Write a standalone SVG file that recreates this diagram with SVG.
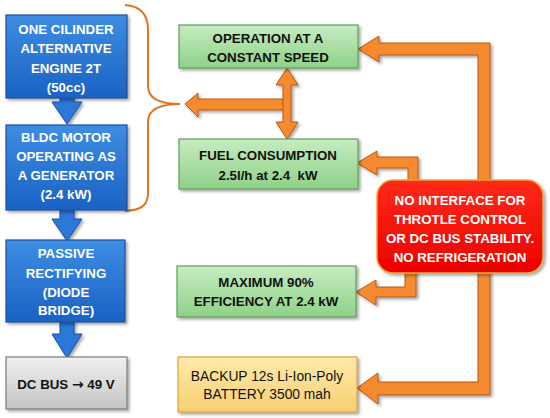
<svg xmlns="http://www.w3.org/2000/svg" width="550" height="418" viewBox="0 0 550 418">
<defs>
<linearGradient id="gBlue" x1="0" y1="0" x2="0" y2="1"><stop offset="0" stop-color="#3d8de3"/><stop offset="1" stop-color="#1b62c2"/></linearGradient>
<linearGradient id="gGreen" x1="0" y1="0" x2="0" y2="1"><stop offset="0" stop-color="#c6ecc1"/><stop offset="1" stop-color="#8fd188"/></linearGradient>
<linearGradient id="gYellow" x1="0" y1="0" x2="0" y2="1"><stop offset="0" stop-color="#fdeaa9"/><stop offset="1" stop-color="#f8cf74"/></linearGradient>
<linearGradient id="gGray" x1="0" y1="0" x2="0" y2="1"><stop offset="0" stop-color="#f0f0f0"/><stop offset="1" stop-color="#c4c4c4"/></linearGradient>
<linearGradient id="gRed" x1="0" y1="0" x2="0" y2="1"><stop offset="0" stop-color="#ff2a1a"/><stop offset="1" stop-color="#ec0000"/></linearGradient>
<filter id="sh" x="-10%" y="-10%" width="130%" height="130%"><feDropShadow dx="2" dy="2" stdDeviation="1.5" flood-color="#000" flood-opacity="0.35"/></filter>
</defs>
<style>
.blue{fill:url(#gBlue);stroke:#1d4f9c;stroke-width:1.2;filter:url(#sh)}
.green{fill:url(#gGreen);stroke:#5f9e58;stroke-width:1.2;filter:url(#sh)}
.yellow{fill:url(#gYellow);stroke:#d9a43a;stroke-width:1.2;filter:url(#sh)}
.gray{fill:url(#gGray);stroke:#7a7a7a;stroke-width:1.2;filter:url(#sh)}
.red{fill:url(#gRed);stroke:#f2a23a;stroke-width:1.5;filter:url(#sh)}
.barrow{fill:#2a78d8;stroke:#1d4f9c;stroke-width:1;filter:url(#sh)}
.oarrow{fill:#f68a2e;stroke:#b85614;stroke-width:1;stroke-linejoin:miter;filter:url(#sh)}
.brace{fill:none;stroke:#e2731f;stroke-width:2}
text{font-family:"Liberation Sans",Arial,sans-serif;font-size:13.3px;font-weight:bold;text-anchor:middle;white-space:pre}
.w{fill:#ffffff}
.k{fill:#111111}
.n{font-weight:normal;font-size:13.8px}
.ar{font-family:"DejaVu Sans",sans-serif;font-size:14px}
</style>

<g id="connectors">
<polygon class="barrow" points="60,96 74,96 74,102 82,102 67,124 52,102 60,102"/>
<polygon class="barrow" points="60,208 74,208 74,219 82,219 67,241 52,219 60,219"/>
<polygon class="barrow" points="60,320 74,320 74,334 82,334 67,358 52,334 60,334"/>
<path class="brace" d="M125,5 C142,6 148,16 148,30 L148,86 C148,97 156,104 180,104 C156,104 148,111 148,122 L148,193 C148,205 142,210 125,211"/>
<polygon class="oarrow" points="185,104 198,93 198,99 287,99 287,110 198,110 198,117"/>
<polygon class="oarrow" points="287,68 298,85 291,85 291,122 298,122 287,139 276,122 283,122 283,85 276,85"/>
<polygon class="oarrow" points="358,49 379,36 379,43 490,43 490,190 478,190 478,55 379,55 379,62"/>
<polygon class="oarrow" points="357,163 377,151 377,157 418,157 418,190 408,190 408,168 377,168 377,175"/>
<polygon class="oarrow" points="356,292 376,280 376,287 405,287 405,265 416,265 416,297 376,297 376,305"/>
<polygon class="oarrow" points="357,388 378,373 378,382 478,382 478,265 490,265 490,395 378,395 378,404"/>
</g>

<g id="engine">
<rect class="blue" x="6" y="15" width="121" height="83"/>
<text class="w" x="66" y="34">ONE CILINDER</text>
<text class="w" x="66" y="53">ALTERNATIVE</text>
<text class="w" x="66" y="73">ENGINE 2T</text>
<text class="w" x="66" y="92">(50cc)</text>
</g>
<g id="bldc">
<rect class="blue" x="6" y="125" width="121" height="85"/>
<text class="w" x="66" y="142">BLDC MOTOR</text>
<text class="w" x="66" y="161">OPERATING AS</text>
<text class="w" x="66" y="180">A GENERATOR</text>
<text class="w" x="66" y="199">(2.4 kW)</text>
</g>
<g id="rectifier">
<rect class="blue" x="6" y="240" width="119" height="82"/>
<text class="w" x="66" y="258">PASSIVE</text>
<text class="w" x="66" y="278">RECTIFYING</text>
<text class="w" x="66" y="297">(DIODE</text>
<text class="w" x="66" y="315">BRIDGE)</text>
</g>
<g id="dcbus">
<rect class="gray" x="6" y="357" width="121" height="52"/>
<text class="k" x="66" y="389">DC BUS <tspan class="ar">→</tspan> 49 V</text>
</g>

<g id="speed">
<rect class="green" x="179" y="25" width="179" height="43"/>
<text class="k" x="268" y="43">OPERATION AT A</text>
<text class="k" x="268" y="62">CONSTANT SPEED</text>
</g>
<g id="fuel">
<rect class="green" x="179" y="139" width="179" height="50"/>
<text class="k" x="268" y="160">FUEL CONSUMPTION</text>
<text class="k" x="268" y="180">2.5l/h at 2.4  kW</text>
</g>
<g id="efficiency">
<rect class="green" x="177" y="266" width="179" height="51"/>
<text class="k" x="266" y="287">MAXIMUM 90%</text>
<text class="k" x="266" y="306">EFFICIENCY AT 2.4 kW</text>
</g>
<g id="battery">
<rect class="yellow" x="178" y="357" width="179" height="55"/>
<text class="k n" x="267" y="381">BACKUP 12s Li-Ion-Poly</text>
<text class="k n" x="267" y="399">BATTERY 3500 mah</text>
</g>

<g id="issues">
<rect class="red" x="377" y="180" width="166" height="93" rx="16"/>
<text class="w" x="460" y="205">NO INTERFACE FOR</text>
<text class="w" x="460" y="224">THROTLE CONTROL</text>
<text class="w" x="460" y="243">OR DC BUS STABILITY.</text>
<text class="w" x="460" y="262">NO REFRIGERATION</text>
</g>
</svg>
